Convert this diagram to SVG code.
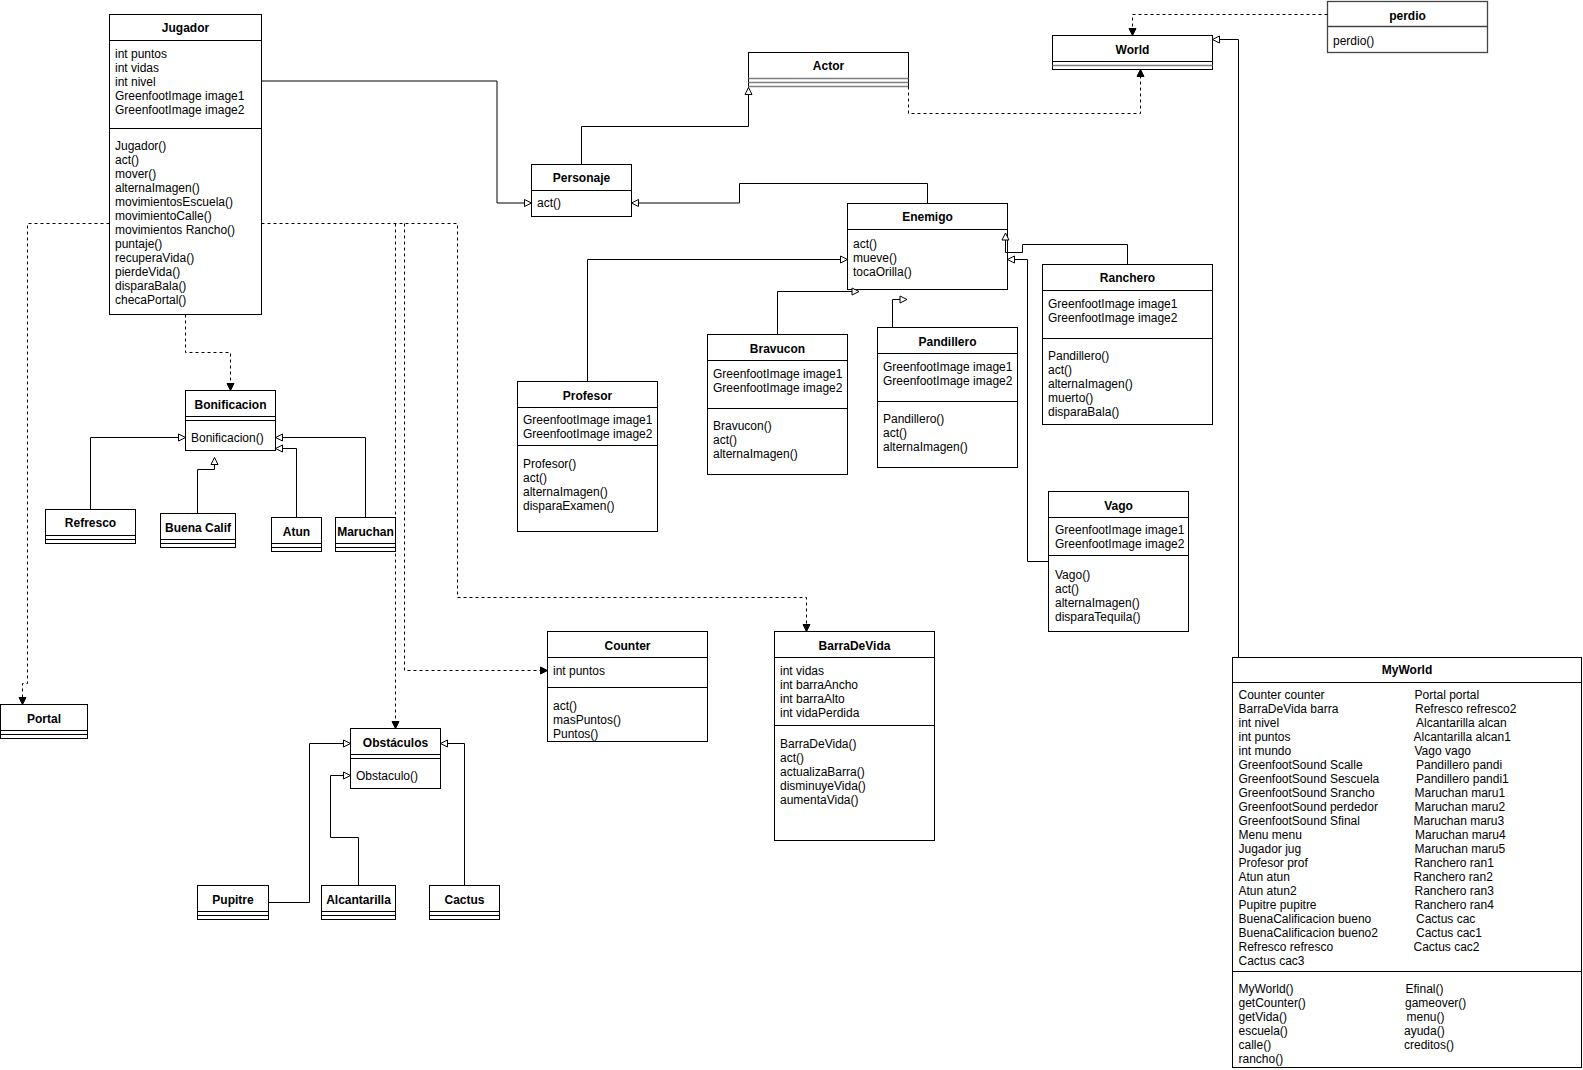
<svg xmlns="http://www.w3.org/2000/svg" width="1583" height="1070" viewBox="0 0 1583 1070">
<style>
  .b{fill:#fff;stroke:#000;stroke-width:1}
  .s{fill:none;stroke:#000;stroke-width:1}
  .g{fill:none;stroke:#808080;stroke-width:1.4}
  .t{font-family:"Liberation Sans",Arial,Helvetica,sans-serif;font-size:12px;font-weight:bold;text-anchor:middle;fill:#000}
  .m{font-family:"Liberation Sans",Arial,Helvetica,sans-serif;font-size:12px;fill:#000}
  .c{fill:none;stroke:#000;stroke-width:1}
  .d{fill:none;stroke:#000;stroke-width:1;stroke-dasharray:3 3}
</style>
<defs>
  <marker id="gen" markerUnits="userSpaceOnUse" markerWidth="9" markerHeight="9" refX="7" refY="3.5" orient="auto" overflow="visible">
    <path d="M0,0 L7,3.5 L0,7 Z" fill="#fff" stroke="#000" stroke-width="1" stroke-dasharray="none"/>
  </marker>
  <marker id="dep" markerUnits="userSpaceOnUse" markerWidth="9" markerHeight="9" refX="7" refY="3.5" orient="auto" overflow="visible">
    <path d="M0,0 L7,3.5 L0,7 Z" fill="#000" stroke="#000" stroke-width="1" stroke-dasharray="none"/>
  </marker>
</defs>
<rect x="0" y="0" width="1583" height="1070" fill="#fff"/>

<g id="Jugador">
  <rect class="b" x="109.5" y="14.5" width="152" height="300"/>
  <path class="s" d="M109.5,40.5 H261.5 M109.5,128.5 H261.5"/>
  <text class="t" x="185.5" y="32">Jugador</text>
  <text class="m" x="115" y="57.5"><tspan x="115">int puntos</tspan><tspan x="115" dy="14">int vidas</tspan><tspan x="115" dy="14">int nivel</tspan><tspan x="115" dy="14">GreenfootImage image1</tspan><tspan x="115" dy="14">GreenfootImage image2</tspan></text>
  <text class="m" x="115" y="149.5"><tspan x="115">Jugador()</tspan><tspan x="115" dy="14">act()</tspan><tspan x="115" dy="14">mover()</tspan><tspan x="115" dy="14">alternaImagen()</tspan><tspan x="115" dy="14">movimientosEscuela()</tspan><tspan x="115" dy="14">movimientoCalle()</tspan><tspan x="115" dy="14">movimientos Rancho()</tspan><tspan x="115" dy="14">puntaje()</tspan><tspan x="115" dy="14">recuperaVida()</tspan><tspan x="115" dy="14">pierdeVida()</tspan><tspan x="115" dy="14">disparaBala()</tspan><tspan x="115" dy="14">checaPortal()</tspan></text>
</g>

<g id="Actor">
  <rect class="b" x="748.5" y="52.5" width="160" height="34"/>
  <path class="g" d="M748.5,78.5 H908.5 M748.5,82.5 H908.5 M748.5,86.5 H908.5"/>
  <text class="t" x="828.5" y="69.5">Actor</text>
</g>

<g id="World">
  <rect class="b" x="1052.5" y="35.5" width="160" height="34"/>
  <path class="s" d="M1052.5,61.5 H1212.5"/>
  <path class="g" d="M1052.5,65.5 H1212.5"/>
  <text class="t" x="1132.5" y="53.5">World</text>
</g>

<g id="perdio">
  <rect x="1327.5" y="1.5" width="160" height="51" fill="#fff" stroke="#444" stroke-width="1.3"/>
  <path d="M1327.5,26.5 H1487.5" stroke="#444" stroke-width="1.3" fill="none"/>
  <text class="t" x="1407.5" y="19.5">perdio</text>
  <text class="m" x="1333" y="44.5">perdio()</text>
</g>

<g id="Personaje">
  <rect class="b" x="531.5" y="164.5" width="100" height="52"/>
  <path class="s" d="M531.5,190.5 H631.5"/>
  <text class="t" x="581.5" y="181.5">Personaje</text>
  <text class="m" x="537" y="207">act()</text>
</g>

<g id="Enemigo">
  <rect class="b" x="847.5" y="203.5" width="160" height="86"/>
  <path class="s" d="M847.5,229.5 H1007.5"/>
  <text class="t" x="927.5" y="220.5">Enemigo</text>
  <text class="m" x="853" y="247.5"><tspan x="853">act()</tspan><tspan x="853" dy="14">mueve()</tspan><tspan x="853" dy="14">tocaOrilla()</tspan></text>
</g>

<g id="Profesor">
  <rect class="b" x="517.5" y="381.5" width="140" height="150"/>
  <path class="s" d="M517.5,407.5 H657.5 M517.5,445.5 H657.5"/>
  <text class="t" x="587.5" y="399.5">Profesor</text>
  <text class="m" x="523" y="424"><tspan x="523">GreenfootImage image1</tspan><tspan x="523" dy="14">GreenfootImage image2</tspan></text>
  <text class="m" x="523" y="467.5"><tspan x="523">Profesor()</tspan><tspan x="523" dy="14">act()</tspan><tspan x="523" dy="14">alternaImagen()</tspan><tspan x="523" dy="14">disparaExamen()</tspan></text>
</g>

<g id="Bravucon">
  <rect class="b" x="707.5" y="334.5" width="140" height="140"/>
  <path class="s" d="M707.5,360.5 H847.5 M707.5,408.5 H847.5"/>
  <text class="t" x="777.5" y="352.5">Bravucon</text>
  <text class="m" x="713" y="377.5"><tspan x="713">GreenfootImage image1</tspan><tspan x="713" dy="14">GreenfootImage image2</tspan></text>
  <text class="m" x="713" y="430"><tspan x="713">Bravucon()</tspan><tspan x="713" dy="14">act()</tspan><tspan x="713" dy="14">alternaImagen()</tspan></text>
</g>

<g id="Pandillero">
  <rect class="b" x="877.5" y="327.5" width="140" height="140"/>
  <path class="s" d="M877.5,353.5 H1017.5 M877.5,401.5 H1017.5"/>
  <text class="t" x="947.5" y="345.5">Pandillero</text>
  <text class="m" x="883" y="371"><tspan x="883">GreenfootImage image1</tspan><tspan x="883" dy="14">GreenfootImage image2</tspan></text>
  <text class="m" x="883" y="423"><tspan x="883">Pandillero()</tspan><tspan x="883" dy="14">act()</tspan><tspan x="883" dy="14">alternaImagen()</tspan></text>
</g>

<g id="Ranchero">
  <rect class="b" x="1042.5" y="264.5" width="170" height="160"/>
  <path class="s" d="M1042.5,290.5 H1212.5 M1042.5,338.5 H1212.5"/>
  <text class="t" x="1127.5" y="282">Ranchero</text>
  <text class="m" x="1048" y="308"><tspan x="1048">GreenfootImage image1</tspan><tspan x="1048" dy="14">GreenfootImage image2</tspan></text>
  <text class="m" x="1048" y="360"><tspan x="1048">Pandillero()</tspan><tspan x="1048" dy="14">act()</tspan><tspan x="1048" dy="14">alternaImagen()</tspan><tspan x="1048" dy="14">muerto()</tspan><tspan x="1048" dy="14">disparaBala()</tspan></text>
</g>

<g id="Vago">
  <rect class="b" x="1048.5" y="491.5" width="140" height="140"/>
  <path class="s" d="M1048.5,517.5 H1188.5 M1048.5,555.5 H1188.5"/>
  <text class="t" x="1118.5" y="510">Vago</text>
  <text class="m" x="1055" y="533.5"><tspan x="1055">GreenfootImage image1</tspan><tspan x="1055" dy="14">GreenfootImage image2</tspan></text>
  <text class="m" x="1055" y="578.5"><tspan x="1055">Vago()</tspan><tspan x="1055" dy="14">act()</tspan><tspan x="1055" dy="14">alternaImagen()</tspan><tspan x="1055" dy="14">disparaTequila()</tspan></text>
</g>

<g id="Bonificacion">
  <rect class="b" x="185.5" y="390.5" width="90" height="60"/>
  <path class="s" d="M185.5,416.5 H275.5 M185.5,420.5 H275.5"/>
  <text class="t" x="230.5" y="408.5">Bonificacion</text>
  <text class="m" x="191" y="442">Bonificacion()</text>
</g>

<g id="Refresco">
  <rect class="b" x="45.5" y="509.5" width="90" height="34"/>
  <path class="s" d="M45.5,535.5 H135.5 M45.5,539.5 H135.5"/>
  <text class="t" x="90.5" y="527">Refresco</text>
</g>

<g id="BuenaCalif">
  <rect class="b" x="160.5" y="513.5" width="75" height="34"/>
  <path class="s" d="M160.5,539.5 H235.5 M160.5,543.5 H235.5"/>
  <text class="t" x="198" y="531.5">Buena Calif</text>
</g>

<g id="Atun">
  <rect class="b" x="271.5" y="517.5" width="50" height="34"/>
  <path class="s" d="M271.5,543.5 H321.5 M271.5,547.5 H321.5"/>
  <text class="t" x="296.5" y="535.5">Atun</text>
</g>

<g id="Maruchan">
  <rect class="b" x="335.5" y="517.5" width="60" height="34"/>
  <path class="s" d="M335.5,543.5 H395.5 M335.5,547.5 H395.5"/>
  <text class="t" x="365.5" y="535.5">Maruchan</text>
</g>

<g id="Portal">
  <rect class="b" x="0.5" y="704.5" width="87" height="34"/>
  <path class="s" d="M0.5,730.5 H87.5 M0.5,734.5 H87.5"/>
  <text class="t" x="44" y="722.5">Portal</text>
</g>

<g id="Obstaculos">
  <rect class="b" x="350.5" y="728.5" width="90" height="60"/>
  <path class="s" d="M350.5,754.5 H440.5 M350.5,758.5 H440.5"/>
  <text class="t" x="395.5" y="747">Obstáculos</text>
  <text class="m" x="356" y="780">Obstaculo()</text>
</g>

<g id="Pupitre">
  <rect class="b" x="197.5" y="885.5" width="71" height="34"/>
  <path class="s" d="M197.5,911.5 H268.5 M197.5,915.5 H268.5"/>
  <text class="t" x="233" y="904">Pupitre</text>
</g>

<g id="Alcantarilla">
  <rect class="b" x="321.5" y="885.5" width="74" height="34"/>
  <path class="s" d="M321.5,911.5 H395.5 M321.5,915.5 H395.5"/>
  <text class="t" x="358.5" y="904">Alcantarilla</text>
</g>

<g id="Cactus">
  <rect class="b" x="429.5" y="885.5" width="70" height="34"/>
  <path class="s" d="M429.5,911.5 H499.5 M429.5,915.5 H499.5"/>
  <text class="t" x="464.5" y="904">Cactus</text>
</g>

<g id="Counter">
  <rect class="b" x="547.5" y="631.5" width="160" height="110"/>
  <path class="s" d="M547.5,657.5 H707.5 M547.5,687.5 H707.5"/>
  <text class="t" x="627.5" y="650">Counter</text>
  <text class="m" x="553" y="675">int puntos</text>
  <text class="m" x="553" y="709.5"><tspan x="553">act()</tspan><tspan x="553" dy="14">masPuntos()</tspan><tspan x="553" dy="14">Puntos()</tspan></text>
</g>

<g id="BarraDeVida">
  <rect class="b" x="774.5" y="631.5" width="160" height="209"/>
  <path class="s" d="M774.5,657.5 H934.5 M774.5,725.5 H934.5"/>
  <text class="t" x="854.5" y="650">BarraDeVida</text>
  <text class="m" x="780" y="675"><tspan x="780">int vidas</tspan><tspan x="780" dy="14">int barraAncho</tspan><tspan x="780" dy="14">int barraAlto</tspan><tspan x="780" dy="14">int vidaPerdida</tspan></text>
  <text class="m" x="780" y="748"><tspan x="780">BarraDeVida()</tspan><tspan x="780" dy="14">act()</tspan><tspan x="780" dy="14">actualizaBarra()</tspan><tspan x="780" dy="14">disminuyeVida()</tspan><tspan x="780" dy="14">aumentaVida()</tspan></text>
</g>

<g id="MyWorld">
  <rect class="b" x="1232.5" y="657.5" width="349" height="410"/>
  <path class="s" d="M1232.5,682.5 H1581.5 M1232.5,971.5 H1581.5"/>
  <text class="t" x="1407" y="674">MyWorld</text>
  <text class="m" x="1238.5" y="699"><tspan x="1238.5">Counter counter</tspan><tspan x="1238.5" dy="14">BarraDeVida barra</tspan><tspan x="1238.5" dy="14">int nivel</tspan><tspan x="1238.5" dy="14">int puntos</tspan><tspan x="1238.5" dy="14">int mundo</tspan><tspan x="1238.5" dy="14">GreenfootSound Scalle</tspan><tspan x="1238.5" dy="14">GreenfootSound Sescuela</tspan><tspan x="1238.5" dy="14">GreenfootSound Srancho</tspan><tspan x="1238.5" dy="14">GreenfootSound perdedor</tspan><tspan x="1238.5" dy="14">GreenfootSound Sfinal</tspan><tspan x="1238.5" dy="14">Menu menu</tspan><tspan x="1238.5" dy="14">Jugador jug</tspan><tspan x="1238.5" dy="14">Profesor prof</tspan><tspan x="1238.5" dy="14">Atun atun</tspan><tspan x="1238.5" dy="14">Atun atun2</tspan><tspan x="1238.5" dy="14">Pupitre pupitre</tspan><tspan x="1238.5" dy="14">BuenaCalificacion bueno</tspan><tspan x="1238.5" dy="14">BuenaCalificacion bueno2</tspan><tspan x="1238.5" dy="14">Refresco refresco</tspan><tspan x="1238.5" dy="14">Cactus cac3</tspan></text>
  <text class="m" x="1414.5" y="699"><tspan x="1414.5">Portal portal</tspan><tspan x="1415" dy="14">Refresco refresco2</tspan><tspan x="1416" dy="14">Alcantarilla alcan</tspan><tspan x="1413.5" dy="14">Alcantarilla alcan1</tspan><tspan x="1414.5" dy="14">Vago vago</tspan><tspan x="1416" dy="14">Pandillero pandi</tspan><tspan x="1416" dy="14">Pandillero pandi1</tspan><tspan x="1414.5" dy="14">Maruchan maru1</tspan><tspan x="1414.5" dy="14">Maruchan maru2</tspan><tspan x="1413.5" dy="14">Maruchan maru3</tspan><tspan x="1415" dy="14">Maruchan maru4</tspan><tspan x="1414.5" dy="14">Maruchan maru5</tspan><tspan x="1414.5" dy="14">Ranchero ran1</tspan><tspan x="1413.5" dy="14">Ranchero ran2</tspan><tspan x="1414.5" dy="14">Ranchero ran3</tspan><tspan x="1414.5" dy="14">Ranchero ran4</tspan><tspan x="1416" dy="14">Cactus cac</tspan><tspan x="1416" dy="14">Cactus cac1</tspan><tspan x="1413.5" dy="14">Cactus cac2</tspan></text>
  <text class="m" x="1238.5" y="992.5"><tspan x="1238.5">MyWorld()</tspan><tspan x="1238.5" dy="14">getCounter()</tspan><tspan x="1238.5" dy="14">getVida()</tspan><tspan x="1238.5" dy="14">escuela()</tspan><tspan x="1238.5" dy="14">calle()</tspan><tspan x="1238.5" dy="14">rancho()</tspan></text>
  <text class="m" x="1405.5" y="992.5"><tspan x="1405.5">Efinal()</tspan><tspan x="1405" dy="14">gameover()</tspan><tspan x="1406.5" dy="14">menu()</tspan><tspan x="1404" dy="14">ayuda()</tspan><tspan x="1404" dy="14">creditos()</tspan></text>
</g>

<g id="connectors">
  <path class="c" d="M261.5,81 H497 V203 H531.5" marker-end="url(#gen)"/>
  <path class="c" d="M581.5,164.5 V126.5 H748.5 V87.5" marker-end="url(#gen)"/>
  <path class="c" d="M927.5,203.5 V183.5 H739.5 V203 H631.5" marker-end="url(#gen)"/>
  <path class="c" d="M587.5,381.5 V259.5 H847.5" marker-end="url(#gen)"/>
  <path class="c" d="M777.5,334.5 V291.5 H859" marker-end="url(#gen)"/>
  <path class="c" d="M892.5,327.5 V299.5 H907" marker-end="url(#gen)"/>
  <path class="c" d="M1127.5,264.5 V244.5 H1022.5 V252.5 H1005.5 V233" marker-end="url(#gen)"/>
  <path class="c" d="M1048.5,561.5 H1027.5 V259.5 H1007.5" marker-end="url(#gen)"/>
  <path class="c" d="M1238.5,657.5 V39.5 H1212.5" marker-end="url(#gen)"/>
  <path class="d" d="M1327.5,14.5 H1132.5 V35.5" marker-end="url(#dep)"/>
  <path class="d" d="M908.5,86.5 V113.5 H1140.5 V69.5" marker-end="url(#dep)"/>
  <path class="d" d="M185.5,314.5 V352.5 H230.5 V390.5" marker-end="url(#dep)"/>
  <path class="c" d="M90.5,509.5 V437.5 H185.5" marker-end="url(#gen)"/>
  <path class="c" d="M197.5,513.5 V469.5 H214.5 V457.5" marker-end="url(#gen)"/>
  <path class="c" d="M296.5,517.5 V448.5 H275.5" marker-end="url(#gen)"/>
  <path class="c" d="M365.5,517.5 V437.5 H275.5" marker-end="url(#gen)"/>
  <path class="d" d="M109.5,223.5 H27.5 V683.5 H22.5 V704.5" marker-end="url(#dep)"/>
  <path class="d" d="M261.5,223.5 H457.5 V597.5 H806.5 V631.5" marker-end="url(#dep)"/>
  <path class="d" d="M395.5,223.5 V728.5" marker-end="url(#dep)"/>
  <path class="d" d="M404.5,223.5 V670.5 H547.5" marker-end="url(#dep)"/>
  <path class="c" d="M268.5,902.5 H309.5 V743.5 H350.5" marker-end="url(#gen)"/>
  <path class="c" d="M358.5,885.5 V837.5 H330.5 V775.5 H350.5" marker-end="url(#gen)"/>
  <path class="c" d="M464.5,885.5 V743.5 H440.5" marker-end="url(#gen)"/>
</g>
</svg>
